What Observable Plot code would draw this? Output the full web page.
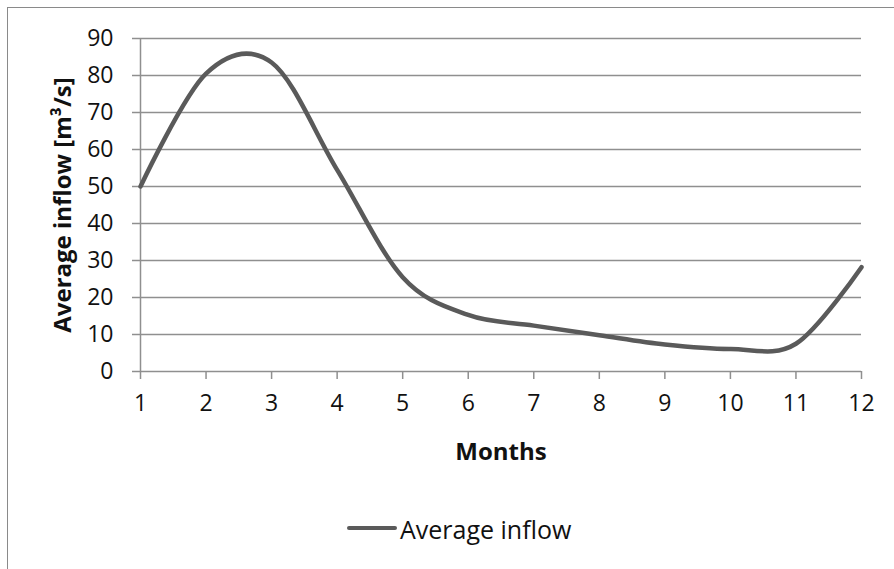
<!DOCTYPE html>
<html>
<head>
<meta charset="utf-8">
<script src="https://cdn.jsdelivr.net/npm/d3@7"></script>
<script src="https://cdn.jsdelivr.net/npm/@observablehq/plot@0.6"></script>
<style>
  html, body { margin: 0; padding: 0; background: #fff; }
  #chart {
    position: relative; width: 894px; height: 569px; overflow: hidden;
    font-family: "Open Sans", "Liberation Sans", sans-serif;
  }
  #frame {
    position: absolute; left: 7px; top: 7px; width: 900px; height: 600px;
    border-left: 1.5px solid #8a8a8a; border-top: 1.5px solid #8a8a8a;
    box-sizing: border-box;
  }
  #plot { position: absolute; left: 0; top: 0; }
  #legend {
    position: absolute; left: 347px; top: 514px; display: flex; align-items: center;
    font-size: 25px; color: #111; line-height: 30px;
  }
  #legend .swatch { width: 50px; height: 4.5px; background: #5a5a5a; border-radius: 2px; margin-right: 3px; margin-top: -2px; }
</style>
</head>
<body>
<div id="chart">
  <div id="frame"></div>
  <div id="plot"></div>
  <div id="legend"><span class="swatch"></span><span>Average inflow</span></div>
</div>
<script>
// Monthly average inflow (m³/s)
const months = [1, 2, 3, 4, 5, 6, 7, 8, 9, 10, 11, 12];
const inflow = [50, 80.5, 83.5, 54.5, 25.5, 15.3, 12.4, 9.8, 7.3, 6.1, 7.5, 28.2];
const yTicks = [0, 10, 20, 30, 40, 50, 60, 70, 80, 90];

const data = months.map((m, i) => ({month: m, value: inflow[i]}));
const grid = "#8f8f8f";
const fs = 23;      // tick labels
const titleFs = 24; // axis titles

const chart = Plot.plot({
  width: 894,
  height: 475,
  marginLeft: 140,
  marginRight: 33,
  marginTop: 38,
  marginBottom: 104,
  style: {fontFamily: "'Open Sans', 'Liberation Sans', sans-serif", fontSize: fs + "px", color: "#111", background: "transparent"},
  x: {domain: [1, 12], ticks: months, label: null},
  y: {domain: [0, 90], ticks: yTicks, label: null},
  marks: [
    Plot.ruleY(yTicks, {stroke: grid, strokeWidth: 1.5}),
    Plot.ruleX([1], {stroke: grid, strokeWidth: 1.5}),
    Plot.axisY({ticks: yTicks, tickSize: 8, tickPadding: 19, stroke: grid, strokeWidth: 1.5, fontSize: fs, fill: "#111", label: null}),
    Plot.axisX({ticks: months, tickSize: 8, tickPadding: 15, stroke: grid, strokeWidth: 1.5, fontSize: fs, fill: "#111", label: null, tickFormat: d => String(d)}),
    Plot.text(["Average inflow [m³/s]"], {
      frameAnchor: "left", dx: -77, rotate: -90, textAnchor: "middle", lineAnchor: "middle",
      fontWeight: "bold", fontSize: titleFs, fill: "#111"
    }),
    Plot.text(["Months"], {
      frameAnchor: "bottom", dy: 81, lineAnchor: "middle", fontWeight: "bold", fontSize: titleFs, fill: "#111"
    }),
    Plot.line(data, {x: "month", y: "value", curve: "cardinal", tension: 0, stroke: "#5a5a5a", strokeWidth: 4.5, strokeLinecap: "round"})
  ]
});
document.getElementById("plot").appendChild(chart);
</script>
</body>
</html>
